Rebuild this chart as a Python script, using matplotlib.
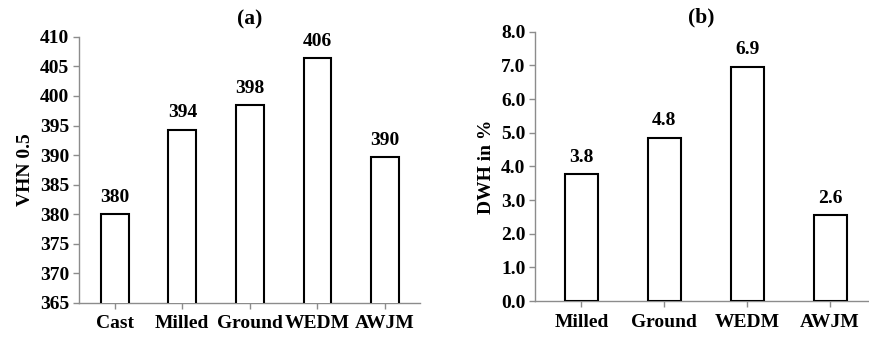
import numpy as np
import matplotlib.pyplot as plt

plt.rcParams['font.family'] = ['Liberation Serif', 'DejaVu Serif']
plt.rcParams['font.weight'] = 'bold'

# (a) hardness
cat_a = ["Cast", "Milled", "Ground", "WEDM", "AWJM"]
vhn = [380.0, 394.3, 398.4, 406.4, 389.7]
vhn_lbl = ["380", "394", "398", "406", "390"]

# (b) degree of work hardening
cat_b = ["Milled", "Ground", "WEDM", "AWJM"]
dwh = [3.77, 4.86, 6.96, 2.55]
dwh_lbl = ["3.8", "4.8", "6.9", "2.6"]

FS = 14
GRAY = '#8c8c8c'

def style(ax):
    for s in ['top', 'right']:
        ax.spines[s].set_visible(False)
    for s in ['left', 'bottom']:
        ax.spines[s].set_color(GRAY)
        ax.spines[s].set_linewidth(1.0)
    ax.tick_params(axis='both', colors=GRAY, labelcolor='black',
                   labelsize=FS, length=4, width=1.0, direction='out')
    ax.tick_params(axis='x', pad=5)
    ax.tick_params(axis='y', pad=3)
    for t in ax.get_xticklabels() + ax.get_yticklabels():
        t.set_fontweight('bold')

def bars(ax, cats, vals, lbls, width, off):
    x = np.arange(len(cats))
    ax.bar(x, vals, width=width, color='white', edgecolor='black',
           linewidth=1.5, zorder=3)
    for xi, v, l in zip(x, vals, lbls):
        ax.annotate(l, (xi, v), xytext=(0, off), textcoords='offset points',
                    ha='center', va='bottom', fontsize=FS, fontweight='bold')
    ax.set_xticks(x)
    ax.set_xticklabels(cats)

fig = plt.figure(figsize=(8.7, 3.38), dpi=100)

ax1 = fig.add_axes([0.0908, 0.104, 0.392, 0.787])
bars(ax1, cat_a, vhn, vhn_lbl, 0.41, 6)
ax1.set_ylim(365, 410)
ax1.set_yticks(np.arange(365, 411, 5))
ax1.set_xlim(-0.53, 4.52)
ax1.set_ylabel("VHN 0.5", fontsize=FS, fontweight='bold', labelpad=4)
ax1.set_title("(a)", fontsize=15.5, fontweight='bold', pad=9)
style(ax1)

ax2 = fig.add_axes([0.615, 0.109, 0.383, 0.797])
bars(ax2, cat_b, dwh, dwh_lbl, 0.40, 6)
ax2.set_ylim(0, 8)
ax2.set_yticks(np.arange(0, 8.1, 1.0))
ax2.set_yticklabels([f"{v:.1f}" for v in np.arange(0, 8.1, 1.0)])
ax2.set_xlim(-0.56, 3.46)
ax2.set_ylabel("DWH in %", fontsize=FS, fontweight='bold', labelpad=4)
ax2.set_title("(b)", fontsize=15.5, fontweight='bold', pad=7)
style(ax2)

fig.savefig("out.png", dpi=100)
